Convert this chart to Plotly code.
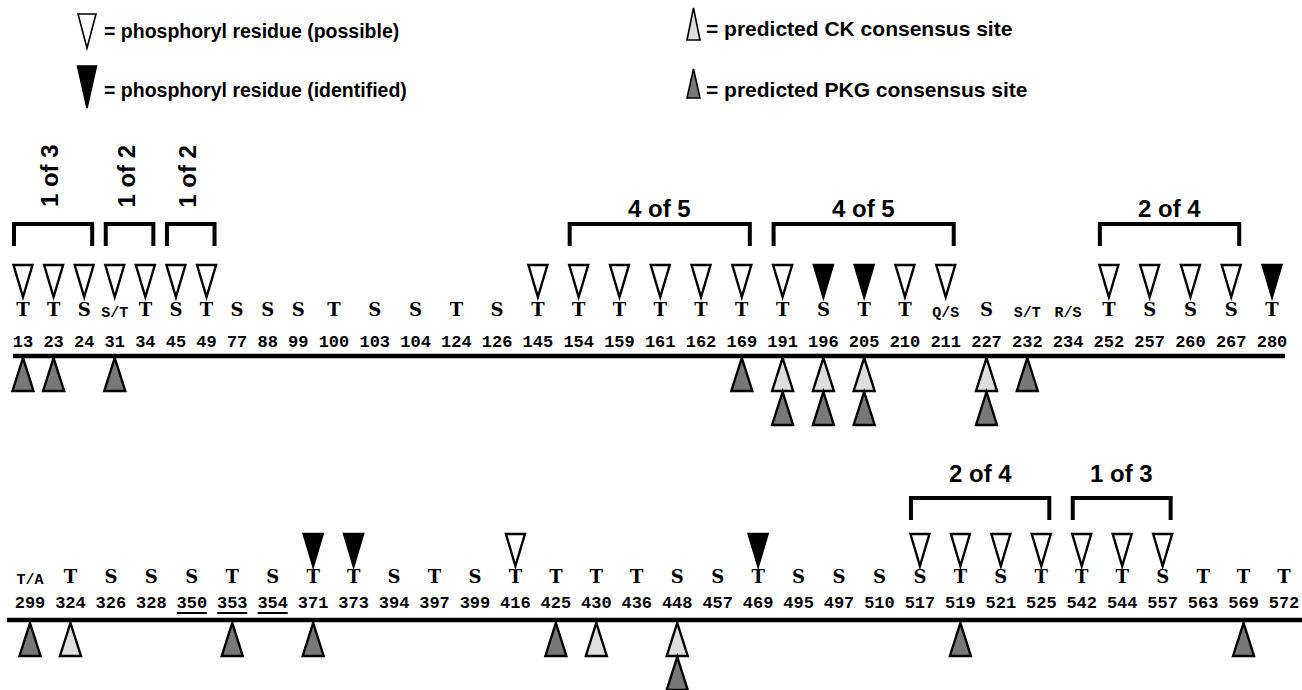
import plotly.graph_objects as go

# ---------------- data ----------------
nums_row1 = [13, 23, 24, 31, 34, 45, 49, 77, 88, 99, 100, 103, 104, 124, 126, 145,
             154, 159, 161, 162, 169, 191, 196, 205, 210, 211, 227, 232, 234,
             252, 257, 260, 267, 280]
res_row1 = ["T", "T", "S", "S/T", "T", "S", "T", "S", "S", "S", "T", "S", "S", "T", "S", "T",
            "T", "T", "T", "T", "T", "T", "S", "T", "T", "Q/S", "S", "S/T", "R/S",
            "T", "S", "S", "S", "T"]
possible_row1 = [13, 23, 24, 31, 34, 45, 49, 145, 154, 159, 161, 162, 169, 191, 210, 211,
                 252, 257, 260, 267]
identified_row1 = [196, 205, 280]
ck_row1 = [191, 196, 205, 227]
pkg_row1 = [13, 23, 31, 169, 191, 196, 205, 227, 232]
groups_row1 = [(13, 24, "1 of 3"), (31, 34, "1 of 2"), (45, 49, "1 of 2"),
               (154, 169, "4 of 5"), (191, 211, "4 of 5"), (252, 267, "2 of 4")]
underlined_row1 = []

nums_row2 = [299, 324, 326, 328, 350, 353, 354, 371, 373, 394, 397, 399, 416, 425, 430,
             436, 448, 457, 469, 495, 497, 510, 517, 519, 521, 525, 542, 544, 557, 563,
             569, 572]
res_row2 = ["T/A", "T", "S", "S", "S", "T", "S", "T", "T", "S", "T", "S", "T", "T", "T",
            "T", "S", "S", "T", "S", "S", "S", "S", "T", "S", "T", "T", "T", "S", "T",
            "T", "T"]
possible_row2 = [416, 517, 519, 521, 525, 542, 544, 557]
identified_row2 = [371, 373, 469]
ck_row2 = [324, 430, 448]
pkg_row2 = [299, 353, 371, 425, 448, 519, 569]
groups_row2 = [(517, 525, "2 of 4"), (542, 557, "1 of 3")]
underlined_row2 = [350, 353, 354]

legend_labels = ["= phosphoryl residue (possible)", "= phosphoryl residue (identified)",
                 "= predicted CK consensus site", "= predicted PKG consensus site"]

# ---------------- styling / layout ----------------
W, H = 1302, 690
CK_FILL = "#dedede"
PKG_FILL = "#787878"
SANS = "Liberation Sans, Arial, sans-serif"
MONO = "Liberation Mono, Courier New, monospace"
SERIF = "DejaVu Serif, Liberation Serif, serif"

rows = [
    dict(nums=nums_row1, res=res_row1, possible=possible_row1, identified=identified_row1,
         ck=ck_row1, pkg=pkg_row1, groups=groups_row1, underlined=underlined_row1,
         x_first=23, x_last=1272, down_top=265, down_apex=297, y_letter=311, y_num=343,
         y_line=356, line_x=(13, 1285), up_apex=358, br_top=224, br_bot=246, y_label=208),
    dict(nums=nums_row2, res=res_row2, possible=possible_row2, identified=identified_row2,
         ck=ck_row2, pkg=pkg_row2, groups=groups_row2, underlined=underlined_row2,
         x_first=30, x_last=1284, down_top=534, down_apex=566, y_letter=578, y_num=604,
         y_line=620, line_x=(7, 1302), up_apex=623, br_top=498, br_bot=520, y_label=473),
]

fig = go.Figure()
shapes = []
annotations = []


def centers(nums, x_first, x_last):
    pos, c = [], 0
    for n in nums:
        L = len(str(n))
        pos.append(c + L / 2)
        c += L + 1
    scale = (x_last - x_first) / (pos[-1] - pos[0])
    return [x_first + (p - pos[0]) * scale for p in pos]


def tri(x, y_base, y_apex, hw, fill, lw=2.4):
    return dict(type="path", xref="x", yref="y",
                path=f"M {x-hw},{y_base} L {x+hw},{y_base} L {x},{y_apex} Z",
                fillcolor=fill, line=dict(color="black", width=lw), layer="above")


for r in rows:
    xs = centers(r["nums"], r["x_first"], r["x_last"])
    xmap = dict(zip(r["nums"], xs))
    # numbers
    fig.add_trace(go.Scatter(x=xs, y=[r["y_num"]] * len(xs), mode="text",
                             text=[str(n) for n in r["nums"]], hoverinfo="skip",
                             cliponaxis=False,
                             textfont=dict(family=MONO, size=17, color="black", weight="bold"),
                             showlegend=False))
    # residue letters
    big = [(x, t) for x, t in zip(xs, r["res"]) if "/" not in t]
    small = [(x, t) for x, t in zip(xs, r["res"]) if "/" in t]
    fig.add_trace(go.Scatter(x=[b[0] for b in big], y=[r["y_letter"]] * len(big), mode="text",
                             text=[b[1] for b in big], hoverinfo="skip", cliponaxis=False,
                             textfont=dict(family=SERIF, size=18, color="black", weight="bold"),
                             showlegend=False))
    if small:
        fig.add_trace(go.Scatter(x=[s[0] for s in small], y=[r["y_letter"] + 2] * len(small),
                                 mode="text", text=[s[1] for s in small], hoverinfo="skip",
                                 cliponaxis=False,
                                 textfont=dict(family=MONO, size=15, color="black", weight="bold"),
                                 showlegend=False))
    # underlines
    for n in r["underlined"]:
        x = xmap[n]
        shapes.append(dict(type="line", xref="x", yref="y", x0=x - 15, x1=x + 15,
                           y0=r["y_num"] + 9, y1=r["y_num"] + 9,
                           line=dict(color="black", width=2)))
    # main line
    shapes.append(dict(type="line", xref="x", yref="y", x0=r["line_x"][0], x1=r["line_x"][1],
                       y0=r["y_line"], y1=r["y_line"], line=dict(color="black", width=4.5)))
    # phosphoryl triangles (pointing down)
    for n in r["possible"]:
        shapes.append(tri(xmap[n], r["down_top"], r["down_apex"], 9.5, "white"))
    for n in r["identified"]:
        shapes.append(tri(xmap[n], r["down_top"], r["down_apex"], 9.5, "black"))
    # kinase consensus triangles (pointing up, stacked)
    th = 33
    for n in r["nums"]:
        level = 0
        for kin_list, fill in ((r["ck"], CK_FILL), (r["pkg"], PKG_FILL)):
            if n in kin_list:
                apex = r["up_apex"] + level * (th + 1)
                shapes.append(tri(xmap[n], apex + th, apex, 10.5, fill))
                level += 1
    # brackets and labels
    for a, b, lab in r["groups"]:
        x0, x1 = xmap[a] - 9, xmap[b] + 8
        shapes.append(dict(type="path", xref="x", yref="y",
                           path=f"M {x0},{r['br_bot']} L {x0},{r['br_top']} L {x1},{r['br_top']} L {x1},{r['br_bot']}",
                           line=dict(color="black", width=4)))
        if x1 - x0 < 90:
            annotations.append(dict(x=(x0 + x1) / 2 - 4, y=176, xref="x", yref="y", text=f"<b>{lab}</b>",
                                    textangle=-90, showarrow=False,
                                    font=dict(family=SANS, size=24, color="black")))
        else:
            annotations.append(dict(x=(x0 + x1) / 2, y=r["y_label"], xref="x", yref="y",
                                    text=f"<b>{lab}</b>", showarrow=False,
                                    font=dict(family=SANS, size=24, color="black")))

# ---------------- legend ----------------
shapes.append(tri(87, 14, 48, 9, "white", lw=1.6))
shapes.append(tri(87, 66, 108, 9.5, "black", lw=1.6))
shapes.append(tri(693.5, 40, 8, 6.5, CK_FILL, lw=1.6))
shapes.append(tri(693.5, 98, 69, 6.5, PKG_FILL, lw=1.6))
legend_pos = [(102, 31, 19.5), (102, 90, 19.5), (704, 28, 21), (704, 89, 21)]
for (lx, ly, fs), lab in zip(legend_pos, legend_labels):
    annotations.append(dict(x=lx, y=ly, xref="x", yref="y", xanchor="left", yanchor="middle",
                            text=f"<b>{lab}</b>", showarrow=False,
                            font=dict(family=SANS, size=fs, color="black")))

fig.update_layout(
    width=W, height=H, margin=dict(l=0, r=0, t=0, b=0),
    paper_bgcolor="white", plot_bgcolor="white",
    xaxis=dict(range=[0, W], visible=False, fixedrange=True),
    yaxis=dict(range=[H, 0], visible=False, fixedrange=True),
    shapes=shapes, annotations=annotations, showlegend=False,
)
fig.write_html("out.html", config={"displayModeBar": False},
               post_script="document.body.style.margin='0';document.body.style.overflow='hidden';")
